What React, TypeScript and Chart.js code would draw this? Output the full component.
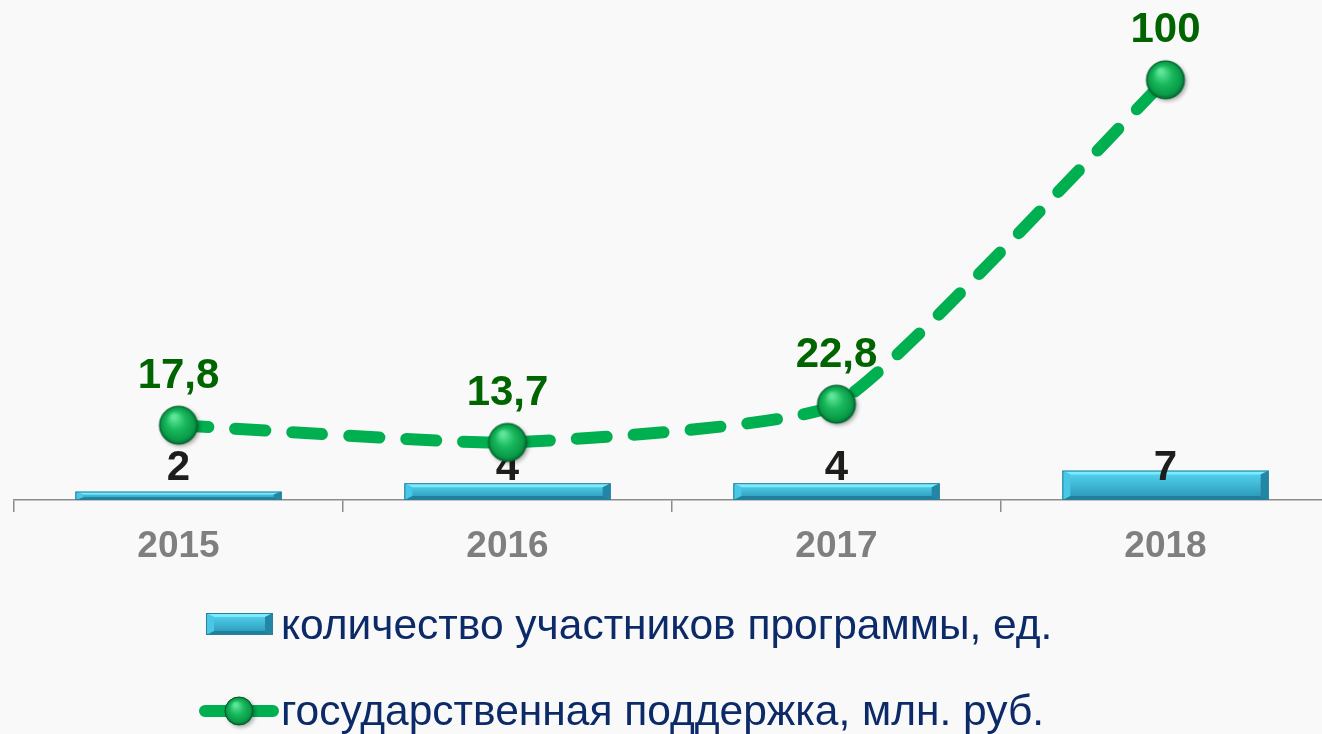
import React, { useEffect, useRef } from "react";
import { Chart, registerables } from "chart.js";

Chart.register(...registerables);

const categories = ["2015", "2016", "2017", "2018"];
const participants = [2, 4, 4, 7];
const participantLabels = ["2", "4", "4", "7"];
const support = [17.8, 13.7, 22.8, 100];
const supportLabels = ["17,8", "13,7", "22,8", "100"];
const seriesNames = [
  "количество участников программы, ед.",
  "государственная поддержка, млн. руб.",
];

const FONT = "'Liberation Sans', Arial, sans-serif";
const LINE_COLOR = "#00b050";

function makeSphere(r: number): HTMLCanvasElement {
  const pad = 6;
  const s = Math.ceil((r + pad) * 2);
  const c = document.createElement("canvas");
  c.width = s;
  c.height = s;
  const g = c.getContext("2d")!;
  const cx = s / 2;
  const cy = s / 2;
  g.save();
  g.shadowColor = "rgba(0,0,0,0.35)";
  g.shadowBlur = 4;
  g.shadowOffsetX = 2;
  g.shadowOffsetY = 2;
  g.beginPath();
  g.arc(cx, cy, r, 0, Math.PI * 2);
  g.fillStyle = "#00a04a";
  g.fill();
  g.restore();
  const grad = g.createRadialGradient(cx - r * 0.25, cy - r * 0.45, r * 0.1, cx, cy, r);
  grad.addColorStop(0, "#5fe59a");
  grad.addColorStop(0.45, "#19b95d");
  grad.addColorStop(0.85, "#0a9a48");
  grad.addColorStop(1, "#006b30");
  g.beginPath();
  g.arc(cx, cy, r, 0, Math.PI * 2);
  g.fillStyle = grad;
  g.fill();
  g.lineWidth = 1;
  g.strokeStyle = "#005a28";
  g.stroke();
  return c;
}

function drawBevelBox(
  ctx: CanvasRenderingContext2D,
  left: number,
  top: number,
  right: number,
  bottom: number
) {
  const h = bottom - top;
  const bx = Math.min(8, (right - left) / 2);
  const by = Math.min(4, h / 3);
  const face = ctx.createLinearGradient(0, top, 0, bottom);
  face.addColorStop(0, "#55d8f4");
  face.addColorStop(1, "#2894b4");
  ctx.save();
  ctx.fillStyle = face;
  ctx.fillRect(left, top, right - left, h);
  const poly = (pts: number[][], color: string) => {
    ctx.beginPath();
    ctx.moveTo(pts[0][0], pts[0][1]);
    for (let i = 1; i < pts.length; i++) ctx.lineTo(pts[i][0], pts[i][1]);
    ctx.closePath();
    ctx.fillStyle = color;
    ctx.fill();
  };
  poly([[left, top], [right, top], [right - bx, top + by], [left + bx, top + by]], "#7eeafc");
  poly([[left, bottom], [right, bottom], [right - bx, bottom - by], [left + bx, bottom - by]], "#1f7f9c");
  poly([[left, top], [left + bx, top + by], [left + bx, bottom - by], [left, bottom]], "#48c8e6");
  poly([[right, top], [right - bx, top + by], [right - bx, bottom - by], [right, bottom]], "#2486a5");
  ctx.strokeStyle = "#2a7f99";
  ctx.lineWidth = 1;
  ctx.strokeRect(left + 0.5, top + 0.5, right - left - 1, h - 1);
  ctx.restore();
}

const labelsPlugin = {
  id: "customLabels",
  afterDatasetDraw(chart: any, args: any) {
    const ctx = chart.ctx as CanvasRenderingContext2D;
    if (args.index === 0) {
      const meta = chart.getDatasetMeta(0);
      const base = chart.scales.y.getPixelForValue(0);
      meta.data.forEach((bar: any, i: number) => {
        const p = bar.getProps(["x", "y", "base", "width"], true);
        const left = p.x - p.width / 2;
        const right = p.x + p.width / 2;
        drawBevelBox(ctx, left, Math.min(p.y, p.base), right, Math.max(p.y, p.base));
        ctx.save();
        ctx.font = `bold 42px ${FONT}`;
        ctx.fillStyle = "#1d1d1b";
        ctx.textAlign = "center";
        ctx.textBaseline = "middle";
        ctx.fillText(participantLabels[i], p.x, base - 32);
        ctx.restore();
      });
    }
  },
  afterDatasetsDraw(chart: any) {
    const ctx = chart.ctx as CanvasRenderingContext2D;
    const meta = chart.getDatasetMeta(1);
    meta.data.forEach((pt: any, i: number) => {
      ctx.save();
      ctx.font = `bold 42px ${FONT}`;
      ctx.fillStyle = "#006400";
      ctx.textAlign = "center";
      ctx.textBaseline = "middle";
      ctx.fillText(supportLabels[i], pt.x, pt.y - 49);
      ctx.restore();
    });
  },
  afterDraw(chart: any) {
    const ctx = chart.ctx as CanvasRenderingContext2D;
    const names = chart.data.datasets.map((d: any) => d.label);
    ctx.save();
    // row 1
    drawBevelBox(ctx, 206, 613, 273, 635);
    ctx.font = `42.5px ${FONT}`;
    ctx.fillStyle = "#0d2a68";
    ctx.textAlign = "left";
    ctx.textBaseline = "middle";
    ctx.fillText(names[0], 281, 627);
    // row 2
    ctx.strokeStyle = LINE_COLOR;
    ctx.lineWidth = 12;
    ctx.lineCap = "round";
    ctx.beginPath();
    ctx.moveTo(205, 711);
    ctx.lineTo(226, 711);
    ctx.moveTo(253, 711);
    ctx.lineTo(273, 711);
    ctx.stroke();
    const sph = makeSphere(14);
    ctx.drawImage(sph, 239 - sph.width / 2, 711 - sph.height / 2);
    ctx.fillStyle = "#0d2a68";
    ctx.fillText(names[1], 281, 713);
    ctx.restore();
  },
};

export default function App() {
  const ref = useRef<HTMLCanvasElement | null>(null);
  useEffect(() => {
    const canvas = ref.current!;
    const sphere = makeSphere(19);
    const chart = new Chart(canvas, {
      type: "bar",
      data: {
        labels: categories,
        datasets: [
          {
            type: "bar",
            label: seriesNames[0],
            data: participants,
            backgroundColor: "rgba(0,0,0,0)",
            borderWidth: 0,
            barPercentage: 0.627,
            categoryPercentage: 1,
            order: 2,
          },
          {
            type: "line",
            label: seriesNames[1],
            data: support,
            borderColor: LINE_COLOR,
            borderWidth: 12,
            borderDash: [30, 27],
            borderCapStyle: "round",
            tension: 0.15,
            pointStyle: sphere as any,
            pointRadius: 19,
            pointHoverRadius: 19,
            order: 1,
          },
        ] as any,
      },
      options: {
        responsive: false,
        animation: false,
        devicePixelRatio: 1,
        layout: { autoPadding: false, padding: { left: 14, right: 10, top: 0, bottom: 0 } },
        plugins: {
          legend: { display: false },
          tooltip: { enabled: false },
          title: { display: false },
        },
        scales: {
          x: {
            offset: true,
            grid: {
              display: true,
              drawOnChartArea: false,
              drawTicks: true,
              tickLength: 12,
              color: "#8c8c8c",
              lineWidth: 1.5,
              offset: true,
            },
            border: { display: true, color: "#8c8c8c", width: 1.5 },
            ticks: {
              color: "#7f7f7f",
              font: { family: FONT, size: 37, weight: "bold" },
              padding: 13,
              maxRotation: 0,
            },
            afterFit: (s: any) => {
              s.height = 234;
              s.paddingLeft = 0;
              s.paddingRight = 0;
            },
          } as any,
          y: { display: false, min: 0, max: 119 },
        },
      },
      plugins: [labelsPlugin],
    });
    return () => chart.destroy();
  }, []);
  return (
    <div
      style={{
        position: "fixed",
        left: 0,
        top: 0,
        width: 1322,
        height: 734,
        overflow: "hidden",
        background: "#f9f9f9",
      }}
    >
      <canvas ref={ref} width={1340} height={734} style={{ display: "block" }} />
    </div>
  );
}
